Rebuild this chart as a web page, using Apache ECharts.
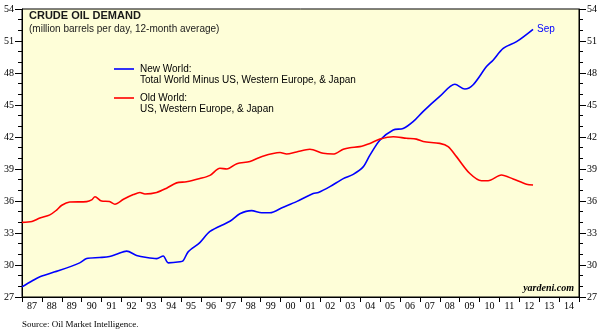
<!DOCTYPE html>
<html>
<head>
<meta charset="utf-8">
<script src="https://cdn.jsdelivr.net/npm/echarts@6/dist/echarts.min.js"></script>
<style>html,body{margin:0;padding:0;background:#fff}#c{width:603px;height:336px}</style>
</head>
<body>
<div id="c"></div>
<script>
const yearLabels = ['87','88','89','90','91','92','93','94','95','96','97','98','99','00','01','02','03','04','05','06','07','08','09','10','11','12','13','14'];
const yTicks = [27, 30, 33, 36, 39, 42, 45, 48, 51, 54];

const newWorldTimes = [1987.0,1987.5,1987.9,1988.9,1989.9,1990.25,1990.9,1991.4,1991.75,1992.26,1992.76,1993.27,1993.77,1994.1,1994.35,1994.94,1995.1,1995.36,1995.94,1996.45,1997.45,1997.95,1998.54,1999.05,1999.46,2000.1,2000.8,2001.64,2001.9,2002.48,2003.15,2003.65,2004.15,2004.49,2004.99,2005.66,2006.16,2006.66,2007.17,2008.0,2008.76,2009.26,2009.68,2010.35,2010.68,2011.19,2011.86,2012.69];
const newWorldValues = [27.95,28.5,28.9,29.5,30.2,30.6,30.7,30.8,31.0,31.3,30.9,30.7,30.6,30.85,30.2,30.3,30.4,31.25,32.1,33.15,34.1,34.8,35.1,34.9,34.9,35.4,35.94,36.7,36.8,37.35,38.1,38.5,39.2,40.3,41.7,42.66,42.8,43.44,44.4,45.8,46.94,46.5,46.9,48.6,49.2,50.3,50.94,52.1];

const oldWorldTimes = [1987.0,1987.5,1987.9,1988.4,1988.74,1989.0,1989.4,1990.25,1990.5,1990.67,1991.0,1991.4,1991.67,1992.1,1992.6,1992.93,1993.18,1993.77,1994.27,1994.77,1995.27,1995.94,1996.45,1996.95,1997.3,1997.8,1998.46,1999.1,1999.97,2000.3,2000.8,2001.47,2002.14,2002.64,2003.15,2003.48,2003.98,2004.49,2004.99,2005.66,2006.33,2006.83,2007.17,2008.0,2008.42,2008.84,2009.5,2010.1,2010.43,2011.1,2011.69,2012.36,2012.69];
const oldWorldValues = [34.0,34.07,34.4,34.7,35.15,35.6,35.9,35.94,36.1,36.4,36.0,35.95,35.7,36.16,36.6,36.8,36.66,36.8,37.2,37.7,37.8,38.1,38.4,39.07,39.0,39.5,39.7,40.2,40.54,40.4,40.6,40.85,40.47,40.4,40.85,41.0,41.1,41.4,41.8,42.03,41.88,41.8,41.57,41.4,41.1,40.16,38.6,37.9,37.9,38.44,38.06,37.57,37.5];

const pair = (t, v) => t.map((x, i) => [x, v[i]]);
const serif = 'Liberation Serif';
const sans = 'Liberation Sans';

const yAxisBase = (pos) => ({
  type: 'value', position: pos, min: yTicks[0], max: yTicks[yTicks.length - 1], interval: 3,
  axisLine: { show: true, lineStyle: { color: '#000', width: 1 } },
  axisTick: { show: true, inside: false, length: 7, lineStyle: { color: '#000' } },
  minorTick: { show: true, splitNumber: 3, length: 4, lineStyle: { color: '#000' } },
  splitLine: { show: false },
  axisLabel: { fontFamily: serif, fontSize: 10, color: '#000', margin: 8 }
});

const chart = echarts.init(document.getElementById('c'));
chart.setOption({
  animation: false,
  backgroundColor: '#fff',
  grid: { left: 22, right: 24, top: 9, bottom: 39, show: true, backgroundColor: '#FEFED8', borderColor: '#000', borderWidth: 1 },
  xAxis: [
    { type: 'value', min: 1987, max: 2015, show: false },
    { type: 'category', data: yearLabels, position: 'bottom', boundaryGap: true,
      axisLine: { show: true, lineStyle: { color: '#000' } },
      axisTick: { show: true, length: 5, lineStyle: { color: '#000' } },
      axisLabel: { fontFamily: serif, fontSize: 10, color: '#000', margin: 4, interval: 0 } }
  ],
  yAxis: [yAxisBase('left'), yAxisBase('right')],
  series: [
    { name: 'New World', type: 'line', xAxisIndex: 0, yAxisIndex: 0, data: pair(newWorldTimes, newWorldValues),
      showSymbol: false, smooth: 0.3, lineStyle: { color: '#0000FF', width: 1.6 },
      endLabel: { show: true, formatter: 'Sep', color: '#0000FF', fontFamily: sans, fontSize: 10, distance: 4 } },
    { name: 'Old World', type: 'line', xAxisIndex: 0, yAxisIndex: 0, data: pair(oldWorldTimes, oldWorldValues),
      showSymbol: false, smooth: 0.3, lineStyle: { color: '#FF0000', width: 1.6 } }
  ],
  graphic: [
    { type: 'text', left: 29, top: 10, style: { text: 'CRUDE OIL DEMAND', font: 'bold 11px "Liberation Sans"', fill: '#1a1a1a' } },
    { type: 'text', left: 29, top: 24, style: { text: '(million barrels per day, 12-month average)', font: '10px "Liberation Sans"', fill: '#1a1a1a' } },
    { type: 'line', shape: { x1: 114, y1: 69, x2: 134, y2: 69 }, style: { stroke: '#0000FF', lineWidth: 1.6 } },
    { type: 'text', left: 140, top: 64, style: { text: 'New World:\nTotal World Minus US, Western Europe, & Japan', font: '10px "Liberation Sans"', fill: '#000', lineHeight: 11 } },
    { type: 'line', shape: { x1: 114, y1: 98, x2: 134, y2: 98 }, style: { stroke: '#FF0000', lineWidth: 1.6 } },
    { type: 'text', left: 140, top: 93, style: { text: 'Old World:\nUS, Western Europe, & Japan', font: '10px "Liberation Sans"', fill: '#000', lineHeight: 11 } },
    { type: 'text', right: 29, top: 283, style: { text: 'yardeni.com', font: 'italic bold 10px "Liberation Serif"', fill: '#000' } },
    { type: 'text', left: 22, top: 320, style: { text: 'Source: Oil Market Intelligence.', font: '9px "Liberation Serif"', fill: '#000' } }
  ]
});
</script>
</body>
</html>
